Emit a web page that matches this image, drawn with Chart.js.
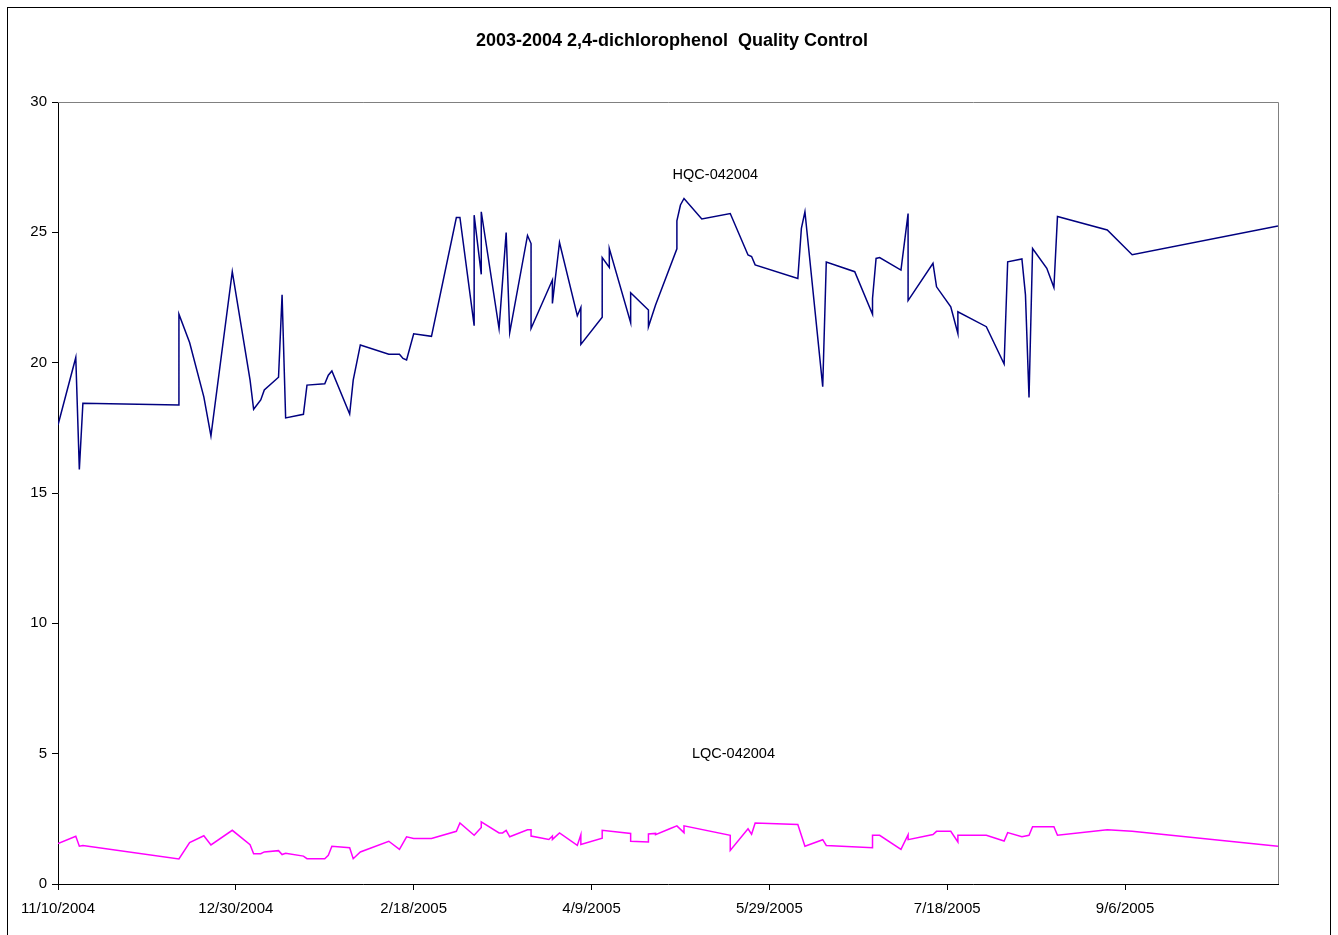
<!DOCTYPE html>
<html>
<head>
<meta charset="utf-8">
<script src="https://cdn.jsdelivr.net/npm/chart.js@4/dist/chart.umd.min.js"></script>
<style>
  html, body { margin: 0; padding: 0; background: #fff; }
  #wrap { width: 1338px; height: 935px; position: relative; }
</style>
</head>
<body>
<div id="wrap"><canvas id="c" width="1338" height="935"></canvas></div>
<script>
// ---- Data (x = days since the start date) ----
const startDate = [2004, 11, 10];
const chartTitle = "2003-2004 2,4-dichlorophenol  Quality Control";
const seriesNames = ["HQC-042004", "LQC-042004"];

const hqcDays = [0,5,6,7,34,34,37,41,43,49,54,55,57,58,62,63,64,69,70,75,76,77,82,83,85,93,96,97,98,100,105,112,113,117,117,119,119,124,126,127,132,133,133,139,139,141,146,147,147,153,153,155,155,161,161,166,166,168,174,174,175,176,181,189,194,195,196,208,209,210,215,216,224,229,229,230,231,237,239,239,246,247,251,253,253,261,266,267,271,272,273,274,278,280,281,295,302,343];
const hqcValues = [17.61,20.2,15.9,18.44,18.38,21.86,20.77,18.69,17.19,23.49,19.33,18.21,18.57,18.95,19.44,22.6,17.88,18.02,19.14,19.19,19.52,19.68,18.03,19.33,20.68,20.32,20.32,20.16,20.1,21.11,21.01,25.57,25.57,21.42,25.66,23.39,25.79,21.31,24.99,21.15,24.88,24.57,21.31,23.17,22.27,24.61,21.8,22.12,20.7,21.74,24.03,23.65,24.38,21.53,22.68,22.02,21.38,22.21,24.37,25.44,26.05,26.3,25.51,25.72,24.13,24.07,23.75,23.23,25.15,25.79,19.08,23.86,23.49,21.86,22.46,24.0,24.03,23.55,25.72,22.38,23.81,22.91,22.14,21.12,21.95,21.38,19.95,23.87,23.98,22.6,18.66,24.38,23.62,22.88,25.61,25.09,24.14,25.24];

const lqcDays = [0,5,6,7,34,37,41,43,49,54,55,57,58,62,63,64,69,70,75,76,77,82,83,85,93,96,98,100,105,112,113,117,119,119,124,125,126,127,132,133,133,138,139,139,141,146,147,147,153,153,161,161,166,166,168,168,172,174,176,176,189,189,194,195,196,208,210,215,216,229,229,231,237,239,239,246,247,251,253,253,261,266,267,271,273,274,280,281,295,302,343];
const lqcValues = [1.55,1.83,1.45,1.48,0.96,1.59,1.85,1.5,2.06,1.51,1.16,1.16,1.23,1.28,1.13,1.18,1.07,0.97,0.97,1.1,1.45,1.39,0.97,1.23,1.64,1.33,1.81,1.75,1.75,2.02,2.34,1.87,2.17,2.38,1.96,1.96,2.06,1.81,2.08,2.08,1.84,1.71,1.84,1.71,1.96,1.48,1.89,1.52,1.76,2.06,1.94,1.64,1.61,1.92,1.94,1.89,2.12,2.23,1.97,2.23,1.87,1.29,2.12,1.91,2.34,2.28,1.45,1.7,1.48,1.39,1.87,1.87,1.33,1.89,1.7,1.9,2.02,2.02,1.61,1.87,1.87,1.65,1.97,1.81,1.87,2.2,2.2,1.87,2.08,2.02,1.45];

const xMin = 0, xMax = 343, xStep = 50;
const yMin = 0, yMax = 30, yStep = 5;
// label anchors (days, value)
const labelAnchors = [[184.8, 27.2], [189.9, 4.99]];

function dayLabel(d) {
  const t = new Date(Date.UTC(startDate[0], startDate[1] - 1, startDate[2]) + d * 86400000);
  return (t.getUTCMonth() + 1) + "/" + t.getUTCDate() + "/" + t.getUTCFullYear();
}
function toXY(days, vals) { return days.map((d, i) => ({ x: d, y: vals[i] })); }

const FONT = "'Liberation Sans', Arial, sans-serif";

const decor = {
  id: 'decor',
  beforeDraw(chart) {
    const ctx = chart.ctx;
    ctx.save();
    ctx.fillStyle = '#fff';
    ctx.fillRect(0, 0, chart.width, chart.height);
    ctx.strokeStyle = '#000';
    ctx.lineWidth = 1;
    ctx.strokeRect(7.5, 7.5, 1323, 960);
    ctx.restore();
  },
  afterDraw(chart) {
    const ctx = chart.ctx;
    const a = chart.chartArea;
    const xs = chart.scales.x, ys = chart.scales.y;
    ctx.save();
    // plot area border (top/right gray)
    ctx.strokeStyle = '#808080';
    ctx.lineWidth = 1;
    ctx.beginPath();
    ctx.moveTo(a.left, a.top + 0.5);
    ctx.lineTo(a.right + 0.5, a.top + 0.5);
    ctx.lineTo(a.right + 0.5, a.bottom);
    ctx.stroke();
    // title
    ctx.fillStyle = '#000';
    ctx.font = "bold 18px " + FONT;
    ctx.textAlign = 'center';
    ctx.textBaseline = 'middle';
    ctx.fillText(chartTitle, 672, 41);
    // series labels
    ctx.font = "14.5px " + FONT;
    labelAnchors.forEach((p, i) => {
      ctx.fillText(seriesNames[i], xs.getPixelForValue(p[0]), ys.getPixelForValue(p[1]));
    });
    ctx.restore();
  }
};

new Chart(document.getElementById('c'), {
  type: 'line',
  data: {
    datasets: [
      { label: seriesNames[0], data: toXY(hqcDays, hqcValues), borderColor: '#000080', borderWidth: 1.5, pointRadius: 0, tension: 0, fill: false },
      { label: seriesNames[1], data: toXY(lqcDays, lqcValues), borderColor: '#FF00FF', borderWidth: 1.5, pointRadius: 0, tension: 0, fill: false }
    ]
  },
  options: {
    responsive: false,
    animation: false,
    layout: { padding: { top: 102, right: 60, left: 0, bottom: 0 } },
    plugins: { legend: { display: false }, title: { display: false }, tooltip: { enabled: false } },
    scales: {
      x: {
        type: 'linear', min: xMin, max: xMax,
        afterFit(s) { s.height = 51; },
        border: { color: '#000', width: 1 },
        grid: { display: true, drawOnChartArea: false, drawTicks: true, tickLength: 6, color: '#000' },
        ticks: { stepSize: xStep, includeBounds: false, autoSkip: false, maxRotation: 0, padding: 10, color: '#000',
                 font: { family: FONT, size: 15 }, callback: v => dayLabel(v) }
      },
      y: {
        type: 'linear', min: yMin, max: yMax,
        afterFit(s) { s.width = 58; },
        border: { color: '#000', width: 1 },
        grid: { display: true, drawOnChartArea: false, drawTicks: true, tickLength: 6, color: '#000' },
        ticks: { stepSize: yStep, padding: 5, color: '#000', font: { family: FONT, size: 15 } }
      }
    }
  },
  plugins: [decor]
});
</script>
</body>
</html>
